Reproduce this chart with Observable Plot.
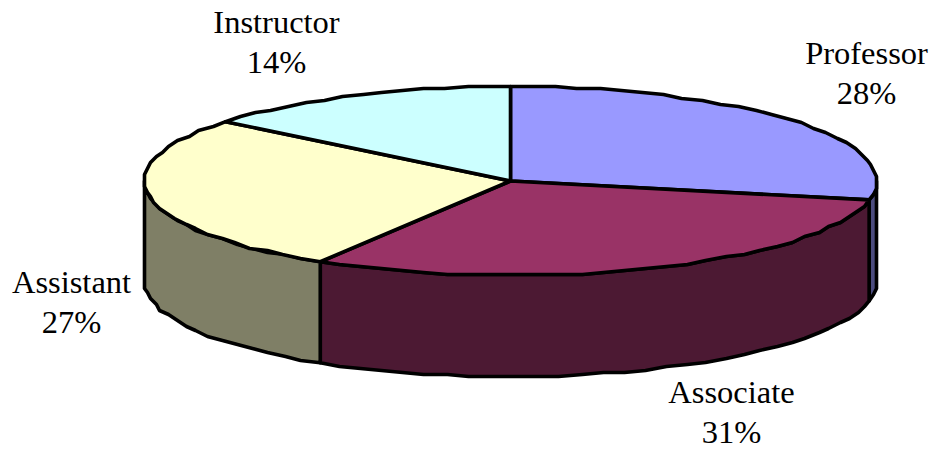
<!DOCTYPE html>
<html>
<head>
<meta charset="utf-8">
<script src="https://cdn.jsdelivr.net/npm/d3@7"></script>
<script src="https://cdn.jsdelivr.net/npm/@observablehq/plot@0.6"></script>
<style>html,body{margin:0;padding:0;background:#fff}svg{display:block}</style>
</head>
<body>
<div id="chart"></div>
<script>
const categories = ["Professor", "Associate", "Assistant", "Instructor"];
const shares = [28.2, 30.5, 27.1, 14.2];
const shareLabels = ["28%", "31%", "27%", "14%"];
const topColors = ["#9999FF", "#993366", "#FFFFCC", "#CCFFFF"];
const sideColors = ["#4C4C7F", "#4C1933", "#7F7F66", "#668080"];

// pie geometry (layout, not data)
const W = 931, H = 449, cx = 510, cy = 180.5, rx = 366, ry = 94.5, depth = 101, stepDeg = 3.5;
const gridX = 3, gridY = 2;
const labelX = [866, 731, 71, 276];
const labelY = [35, 374, 264, 4];

const rad = d => d * Math.PI / 180;
const rim = (deg, dy = 0) => ({x: cx + rx * Math.sin(rad(deg)), y: cy - ry * Math.cos(rad(deg)) + dy});
const snap = p => ({x: Math.round(p.x / gridX) * gridX, y: Math.round(p.y / gridY) * gridY});
function arc(a0, a1, dy = 0) {
  const pts = [];
  const n = Math.max(1, Math.round((a1 - a0) / stepDeg));
  for (let i = 0; i <= n; i++) {
    const p = rim(a0 + (a1 - a0) * i / n, dy);
    pts.push(i === 0 || i === n ? p : snap(p));
  }
  return pts;
}

let acc = 0;
const slices = shares.map((s, i) => {
  const a0 = acc * 3.6; acc += s; const a1 = acc * 3.6;
  return {i, a0, a1};
});

const faces = [];
function addFace(id, color, pts) {
  pts.concat([pts[0]]).forEach(p => faces.push({id, color, x: p.x, y: p.y}));
}
// walls: only the front half of the rim is visible
slices.forEach(({i, a0, a1}) => {
  const s = Math.max(a0, 90), e = Math.min(a1, 270);
  if (e > s) addFace("side" + i, sideColors[i], arc(s, e).concat(arc(s, e, depth).reverse()));
});
// top faces
slices.forEach(({i, a0, a1}) => {
  addFace("top" + i, topColors[i], [{x: cx, y: cy}].concat(arc(a0, a1)));
});

const labels = categories.map((c, i) => ({text: c + "\n" + shareLabels[i], x: labelX[i], y: labelY[i]}));

const chart = Plot.plot({
  width: W, height: H,
  margin: 0,
  x: {domain: [0, W], range: [0, W], axis: null},
  y: {domain: [0, H], range: [0, H], axis: null},
  color: {type: "identity"},
  marks: [
    Plot.line(faces, {x: "x", y: "y", z: "id", fill: "color", stroke: "#000", strokeWidth: 3.6, strokeLinejoin: "round", curve: "linear"}),
    Plot.text(labels, {x: "x", y: "y", text: "text", textAnchor: "middle", lineAnchor: "top", lineHeight: 1.23, fontSize: 32.5, fontFamily: "Liberation Serif", fill: "#000"})
  ]
});
document.getElementById("chart").appendChild(chart);
</script>
</body>
</html>
